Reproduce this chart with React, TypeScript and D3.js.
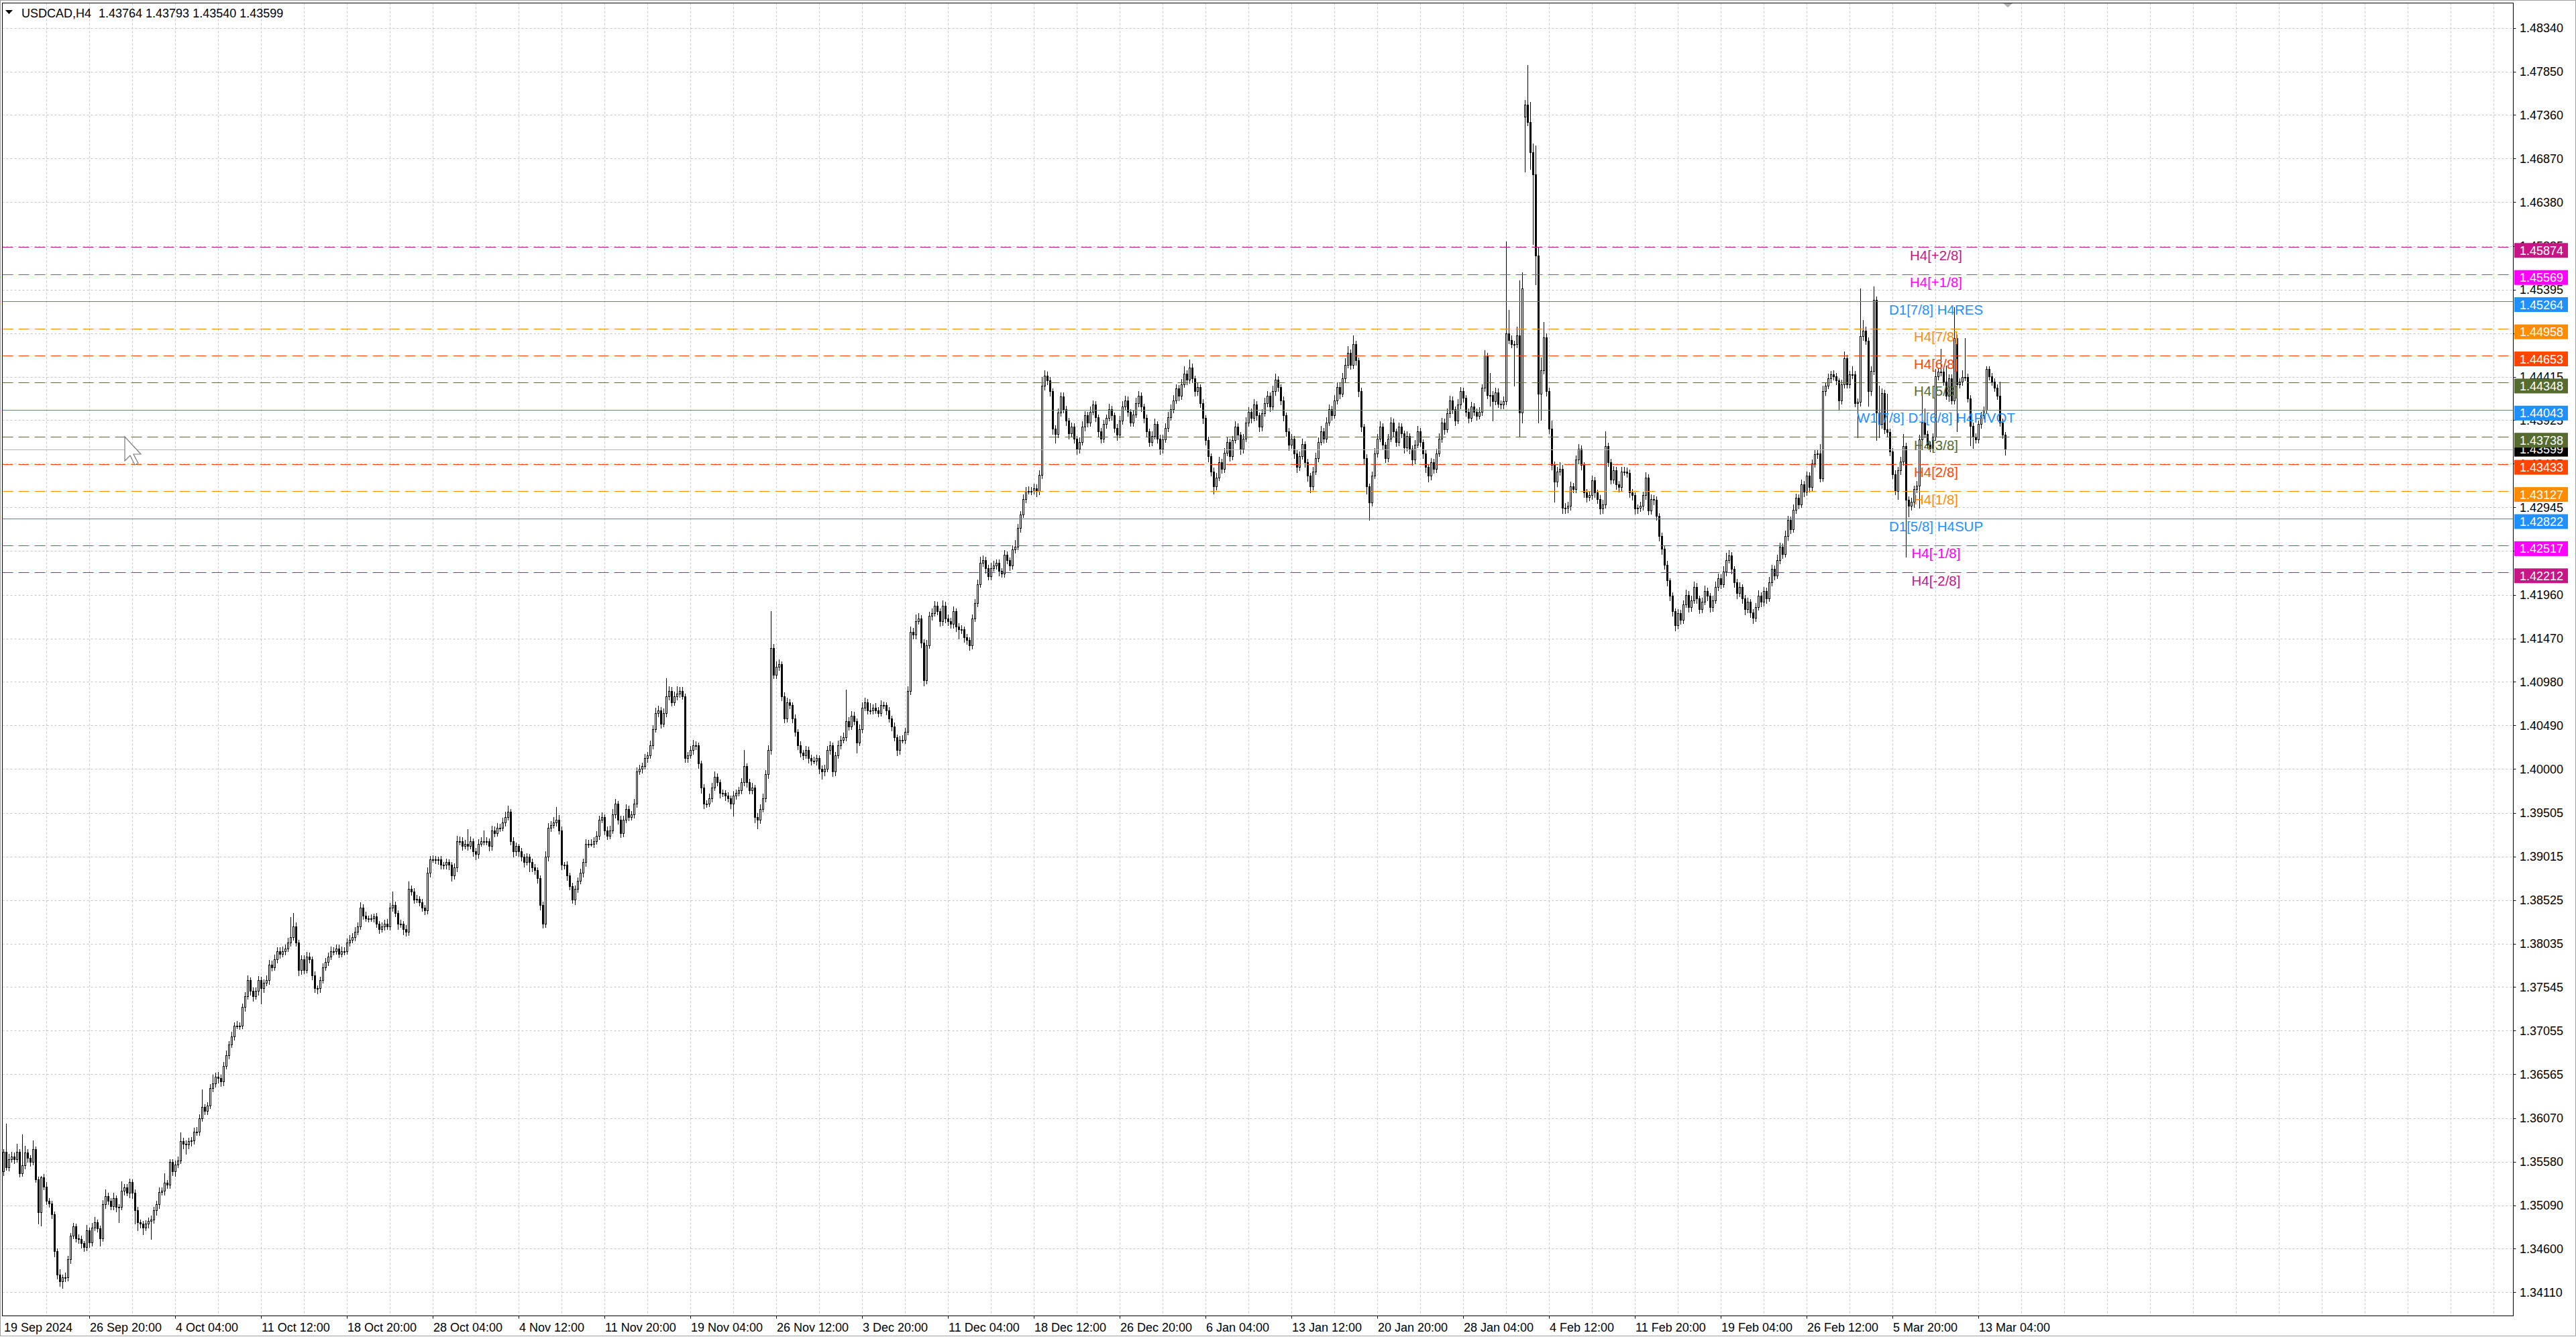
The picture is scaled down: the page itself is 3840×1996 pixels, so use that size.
import React from "react";
import * as d3 from "d3";

// chart size (full screenshot)
const W = 3840;
const H = 1996;
const plotLeft = 3.5;
const plotTop = 4.5;
const plotRight = 3746.5;
const plotBottom = 1961.5;

const symbolTitle = "USDCAD,H4";
const headerQuote = ["1.43764", "1.43793", "1.43540", "1.43599"];

// H4 candles: [close, upper wick (pips), lower wick (pips)], open = previous close
const firstOpen = 1.3547;
const gapOpens: [number, number][] = [[567, 1.4734]];

const barsSepOct = [
  [1.3569,3,4],[1.3552,32,3],[1.3561,6,4],[1.3564,5,3],[1.3561,4,5],[1.3569,9,3],[1.3545,3,4],[1.3554,35,3],[1.3568,8,4],[1.3562,4,4],
  [1.3558,3,5],[1.3572,10,3],[1.3538,3,3],[1.3501,3,13],[1.3540,2,15],[1.3530,4,3],[1.3514,5,4],[1.3511,3,4],[1.3499,3,5],[1.3457,3,6],
  [1.3431,3,5],[1.3423,6,5],[1.3428,3,7],[1.3428,5,5],[1.3448,4,4],[1.3475,3,4],[1.3485,4,3],[1.3472,3,4],[1.3471,4,5],[1.3466,4,5],
  [1.3462,3,5],[1.3481,6,4],[1.3467,3,5],[1.3484,5,4],[1.3490,6,3],[1.3483,3,4],[1.3472,3,9],[1.3510,5,3],[1.3519,8,4],[1.3514,4,4],
  [1.3508,3,4],[1.3517,6,4],[1.3507,3,5],[1.3507,3,17],[1.3525,11,3],[1.3529,4,4],[1.3523,4,3],[1.3535,4,5],[1.3523,3,6],[1.3503,4,15],
  [1.3490,4,9],[1.3488,3,4],[1.3484,3,8],[1.3488,4,3],[1.3491,4,4],[1.3493,4,20],[1.3503,4,4],[1.3510,4,5],[1.3524,5,4],[1.3525,4,3],
  [1.3534,11,4],[1.3532,3,4],[1.3558,3,4],[1.3547,3,4],[1.3555,4,5],[1.3559,5,3],[1.3581,10,3],[1.3578,4,5],[1.3577,4,10],[1.3581,4,4],
  [1.3582,4,5],[1.3592,4,4],[1.3592,5,4],[1.3607,4,4],[1.3620,19,3],[1.3615,3,4],[1.3621,4,4],[1.3641,4,3],[1.3646,10,4],[1.3654,4,4],
  [1.3652,5,5],
];

const barsOctNov = [
  [1.3648,4,5],[1.3666,4,4],[1.3678,5,3],[1.3690,4,4],[1.3699,5,3],[1.3711,4,4],[1.3711,5,3],[1.3711,4,4],[1.3732,4,3],[1.3744,5,4],
  [1.3762,6,3],[1.3750,3,4],[1.3744,4,5],[1.3750,4,3],[1.3762,5,4],[1.3753,4,17],[1.3759,4,4],[1.3762,6,3],[1.3780,5,4],[1.3777,4,4],
  [1.3786,5,3],[1.3795,4,4],[1.3792,4,5],[1.3795,5,3],[1.3798,4,4],[1.3805,5,3],[1.3811,22,4],[1.3823,15,3],[1.3805,4,4],[1.3774,3,6],
  [1.3786,4,5],[1.3774,4,4],[1.3789,5,3],[1.3786,4,4],[1.3768,3,5],[1.3753,4,4],[1.3753,3,6],[1.3762,4,4],[1.3777,4,3],[1.3783,4,3],
  [1.3789,4,4],[1.3795,5,3],[1.3795,4,4],[1.3798,4,3],[1.3792,4,4],[1.3795,5,3],[1.3795,4,4],[1.3805,4,3],[1.3808,5,4],[1.3811,4,3],
  [1.3817,5,4],[1.3823,4,3],[1.3844,6,3],[1.3835,4,4],[1.3832,4,3],[1.3832,3,4],[1.3832,4,3],[1.3834,3,4],[1.3826,4,4],[1.3820,3,5],
  [1.3823,4,3],[1.3826,4,4],[1.3823,5,3],[1.3844,5,4],[1.3847,15,4],[1.3838,4,4],[1.3826,3,6],[1.3826,4,4],[1.3820,3,6],[1.3817,4,5],
  [1.3865,8,4],[1.3862,4,4],[1.3853,4,4],[1.3854,4,3],[1.3850,3,4],[1.3844,4,4],[1.3841,3,5],[1.3883,6,4],[1.3898,4,4],[1.3898,5,3],
  [1.3898,4,4],[1.3898,3,5],[1.3892,4,4],[1.3892,3,4],[1.3895,4,4],[1.3892,3,5],[1.3880,3,6],[1.3889,5,4],[1.3919,6,4],[1.3919,5,4],
  [1.3913,4,4],[1.3916,4,3],[1.3913,16,4],[1.3919,5,3],[1.3907,3,5],[1.3904,4,6],[1.3916,5,4],[1.3919,4,3],[1.3919,12,4],[1.3919,4,4],
];

const barsNovDec = [
  [1.3913,3,5],[1.3931,5,4],[1.3928,4,4],[1.3934,5,3],[1.3934,4,4],[1.3940,5,3],[1.3946,6,4],[1.3952,7,3],[1.3919,3,4],[1.3907,4,6],
  [1.3913,4,4],[1.3907,3,5],[1.3901,4,4],[1.3895,3,5],[1.3901,4,3],[1.3895,3,10],[1.3889,4,4],[1.3886,4,4],[1.3877,3,5],[1.3847,3,5],
  [1.3826,4,5],[1.3901,6,4],[1.3934,5,4],[1.3937,4,4],[1.3940,6,3],[1.3943,14,4],[1.3931,5,4],[1.3892,4,5],[1.3892,3,4],[1.3880,4,5],
  [1.3868,3,4],[1.3853,4,4],[1.3865,4,5],[1.3874,4,4],[1.3883,5,3],[1.3895,4,4],[1.3916,5,4],[1.3916,4,4],[1.3916,5,3],[1.3919,4,4],
  [1.3925,5,3],[1.3943,4,4],[1.3946,5,3],[1.3931,3,5],[1.3925,4,4],[1.3931,5,3],[1.3949,6,3],[1.3961,5,4],[1.3943,3,5],[1.3928,4,5],
  [1.3943,4,4],[1.3955,5,3],[1.3946,4,4],[1.3949,4,3],[1.3961,5,4],[1.3997,5,4],[1.4000,5,3],[1.4003,4,4],[1.4012,5,3],[1.4015,4,4],
  [1.4027,5,3],[1.4045,4,4],[1.4063,6,3],[1.4066,5,4],[1.4051,4,5],[1.4063,5,3],[1.4082,20,4],[1.4088,5,4],[1.4075,4,4],[1.4082,5,3],
  [1.4085,8,4],[1.4088,4,4],[1.4082,4,3],[1.4012,3,4],[1.4015,4,4],[1.4021,5,3],[1.4027,6,4],[1.4027,4,5],[1.4006,3,5],[1.3979,3,6],
  [1.3961,4,5],[1.3961,4,4],[1.3967,5,3],[1.3979,5,4],[1.3991,6,3],[1.3985,4,4],[1.3973,3,5],[1.3973,4,4],[1.3970,3,5],[1.3967,4,4],
  [1.3961,3,5],[1.3970,5,14],[1.3973,4,4],[1.3976,4,3],[1.3985,5,4],[1.4003,18,4],[1.3985,3,5],[1.3976,4,4],[1.3979,5,4],[1.3946,3,6],
];

const barsDecJan = [
  [1.3943,4,10],[1.3955,5,4],[1.3967,5,3],[1.3994,5,4],[1.4021,6,4],[1.4136,42,4],[1.4106,5,4],[1.4115,6,4],[1.4118,5,4],[1.4082,3,5],
  [1.4057,4,5],[1.4075,5,4],[1.4072,4,4],[1.4057,3,5],[1.4042,4,5],[1.4027,3,5],[1.4018,4,4],[1.4015,3,4],[1.4021,5,3],[1.4012,4,5],
  [1.4009,4,4],[1.4009,5,3],[1.4012,4,4],[1.4000,3,5],[1.3997,4,8],[1.4000,5,4],[1.4021,5,3],[1.4027,4,4],[1.3997,3,5],[1.4015,4,4],
  [1.4027,5,3],[1.4033,4,4],[1.4036,5,3],[1.4054,35,4],[1.4048,4,4],[1.4060,5,3],[1.4054,4,4],[1.4030,3,12],[1.4045,5,3],[1.4069,6,4],
  [1.4075,5,3],[1.4066,4,4],[1.4066,8,4],[1.4069,4,4],[1.4066,5,3],[1.4063,4,4],[1.4072,5,3],[1.4072,4,4],[1.4066,3,5],[1.4057,4,4],
  [1.4048,3,5],[1.4036,4,4],[1.4021,3,6],[1.4033,4,4],[1.4033,5,3],[1.4042,4,4],[1.4088,5,3],[1.4154,6,4],[1.4151,5,4],[1.4166,8,4],
  [1.4169,6,3],[1.4142,4,5],[1.4100,4,6],[1.4139,6,4],[1.4172,5,3],[1.4175,6,4],[1.4184,5,3],[1.4178,4,4],[1.4166,3,5],[1.4184,6,4],
  [1.4169,4,4],[1.4166,5,4],[1.4163,4,4],[1.4178,5,4],[1.4160,3,5],[1.4157,4,10],[1.4157,5,4],[1.4148,3,5],[1.4145,4,4],[1.4139,3,5],
  [1.4169,5,4],[1.4187,4,3],[1.4208,5,4],[1.4232,7,3],[1.4235,5,4],[1.4226,4,5],[1.4217,4,4],[1.4226,6,4],[1.4229,5,3],[1.4232,4,4],
  [1.4223,4,5],[1.4220,3,4],[1.4241,5,4],[1.4235,4,4],[1.4229,3,5],[1.4247,5,4],[1.4250,8,4],[1.4271,5,3],[1.4286,4,4],[1.4304,5,3],
  [1.4313,4,4],[1.4313,5,3],[1.4313,4,4],[1.4316,5,3],[1.4313,4,6],[1.4331,5,4],[1.4431,10,4],[1.4443,6,4],[1.4437,4,4],[1.4425,4,5],
  [1.4383,3,6],[1.4377,4,10],[1.4401,5,4],[1.4419,5,4],
];

const barsJanFeb = [
  [1.4405,5,4],[1.4392,4,5],[1.4378,3,6],[1.4385,5,4],[1.4372,4,5],[1.4360,3,6],[1.4368,5,4],[1.4385,6,3],[1.4398,5,4],[1.4390,4,5],
  [1.4402,6,4],[1.4410,5,3],[1.4396,4,5],[1.4380,3,6],[1.4372,4,5],[1.4388,5,4],[1.4395,4,4],[1.4405,6,3],[1.4398,4,5],[1.4384,3,5],
  [1.4376,4,6],[1.4392,5,3],[1.4408,6,4],[1.4415,5,3],[1.4402,4,5],[1.4390,3,4],[1.4399,5,4],[1.4412,6,3],[1.4420,5,4],[1.4408,4,5],
  [1.4395,3,5],[1.4380,4,6],[1.4368,3,5],[1.4375,5,4],[1.4388,6,3],[1.4372,3,5],[1.4360,4,6],[1.4371,5,4],[1.4384,5,3],[1.4396,6,4],
  [1.4405,5,3],[1.4415,6,4],[1.4428,5,3],[1.4420,4,5],[1.4433,6,4],[1.4445,8,3],[1.4438,4,5],[1.4452,9,4],[1.4440,4,5],[1.4425,3,5],
  [1.4430,5,4],[1.4412,3,5],[1.4395,4,6],[1.4370,3,5],[1.4352,4,6],[1.4335,3,5],[1.4318,4,8],[1.4328,5,4],[1.4345,6,3],[1.4338,4,5],
  [1.4356,5,4],[1.4368,6,3],[1.4352,4,5],[1.4370,5,4],[1.4385,6,3],[1.4376,4,5],[1.4360,3,6],[1.4372,5,4],[1.4390,6,3],[1.4402,5,4],
  [1.4395,4,5],[1.4410,6,3],[1.4398,4,5],[1.4385,3,5],[1.4400,5,4],[1.4412,6,3],[1.4420,5,4],[1.4408,4,5],[1.4425,6,3],[1.4438,7,4],
  [1.4430,4,5],[1.4415,3,5],[1.4398,4,6],[1.4380,3,5],[1.4365,4,6],[1.4372,5,4],[1.4355,3,5],[1.4340,4,6],[1.4352,5,4],[1.4366,6,3],
  [1.4345,3,5],[1.4330,4,6],[1.4318,3,7],[1.4335,5,4],[1.4350,6,3],[1.4368,5,4],[1.4380,6,3],[1.4372,4,5],[1.4390,6,4],[1.4405,5,3],
  [1.4398,4,5],[1.4415,6,3],[1.4430,5,4],[1.4422,4,5],[1.4440,6,3],[1.4455,7,4],[1.4468,8,3],[1.4455,4,5],[1.4478,10,4],[1.4460,4,5],
  [1.4425,3,6],[1.4385,4,5],[1.4350,3,6],[1.4318,4,8],[1.4300,3,20],[1.4330,5,4],[1.4355,6,3],[1.4372,5,4],[1.4385,6,3],[1.4365,4,5],
  [1.4350,3,5],[1.4372,5,4],[1.4390,6,3],[1.4380,4,5],[1.4368,3,5],[1.4385,5,4],[1.4378,4,5],[1.4362,3,6],[1.4375,5,4],[1.4360,3,5],
  [1.4348,4,6],[1.4365,5,4],[1.4380,6,3],[1.4368,4,5],[1.4355,3,5],[1.4340,4,6],[1.4330,3,7],[1.4345,5,4],[1.4338,4,5],[1.4355,5,4],
  [1.4372,6,3],[1.4390,5,4],[1.4382,4,5],[1.4400,6,3],[1.4415,5,4],[1.4405,4,5],[1.4392,3,5],[1.4410,6,3],[1.4425,5,4],[1.4418,4,5],
  [1.4402,3,5],[1.4395,4,5],[1.4408,5,4],[1.4402,4,4],
];

const barsFebMar = [
  [1.4397,4,4],[1.4402,5,3],[1.4429,4,4],[1.4465,6,4],[1.4421,3,4],[1.4421,25,12],[1.4414,4,22],[1.4424,5,4],[1.4411,4,4],[1.4410,4,4],
  [1.4414,5,4],[1.4490,104,4],[1.4483,27,4],[1.4478,5,4],[1.4478,4,47],[1.4488,10,4],[1.4401,62,27],[1.4541,18,11],[1.4748,5,62],[1.4728,44,4],
  [1.4694,23,19],[1.4669,10,78],[1.4578,33,33],[1.4422,10,32],[1.4449,14,29],[1.4486,17,4],[1.4425,4,5],[1.4383,4,5],[1.4342,9,5],[1.4323,4,22],
  [1.4335,5,5],[1.4338,7,4],[1.4294,4,6],[1.4294,5,6],[1.4296,5,5],[1.4318,5,4],[1.4315,4,4],[1.4348,5,4],[1.4360,6,4],[1.4342,4,5],
  [1.4311,3,5],[1.4306,4,5],[1.4308,5,4],[1.4325,5,4],[1.4311,4,5],[1.4304,3,5],[1.4293,4,6],[1.4298,5,5],[1.4363,17,4],[1.4345,4,4],
  [1.4326,4,5],[1.4336,5,4],[1.4320,4,5],[1.4317,4,5],[1.4335,5,4],[1.4335,5,4],[1.4333,4,4],[1.4311,4,5],[1.4308,4,5],[1.4293,3,6],
  [1.4294,4,5],[1.4296,5,4],[1.4308,4,4],[1.4328,6,4],[1.4291,4,5],[1.4304,5,4],[1.4303,4,5],[1.4285,4,5],[1.4262,3,5],[1.4248,4,6],
  [1.4230,3,5],[1.4212,4,6],[1.4195,3,5],[1.4178,4,6],[1.4162,3,6],[1.4175,5,4],[1.4168,4,5],[1.4185,5,4],[1.4196,6,3],[1.4182,4,5],
  [1.4190,5,4],[1.4205,6,3],[1.4192,4,5],[1.4180,3,5],[1.4188,5,4],[1.4200,6,3],[1.4195,4,5],[1.4182,3,5],[1.4190,5,4],[1.4205,6,3],
  [1.4215,5,4],[1.4208,4,5],[1.4222,6,3],[1.4235,8,4],[1.4240,6,3],[1.4225,4,5],[1.4210,3,5],[1.4198,4,6],[1.4205,5,4],[1.4192,3,5],
  [1.4180,4,6],[1.4188,5,4],[1.4176,3,5],[1.4170,4,6],[1.4182,5,4],[1.4195,6,3],[1.4188,4,5],[1.4200,5,4],[1.4192,4,5],[1.4210,6,3],
  [1.4225,5,4],[1.4218,4,5],[1.4235,6,3],[1.4250,5,4],[1.4242,4,5],[1.4262,6,3],[1.4280,5,4],[1.4270,4,5],[1.4292,6,3],[1.4305,5,4],
  [1.4298,4,5],[1.4320,6,3],[1.4312,4,5],[1.4330,5,4],[1.4317,4,5],[1.4344,4,4],[1.4354,5,4],[1.4355,4,4],[1.4327,11,4],[1.4425,6,3],
  [1.4431,4,4],[1.4440,5,3],[1.4444,4,4],[1.4442,5,4],[1.4437,4,4],[1.4415,3,11],[1.4433,5,4],[1.4462,8,4],[1.4433,4,4],[1.4444,4,4],
  [1.4444,9,4],[1.4412,4,4],[1.4413,4,39],[1.4487,54,4],[1.4493,12,4],[1.4482,5,4],[1.4425,4,16],[1.4448,5,4],[1.4528,15,4],[1.4401,4,31],
  [1.4388,30,15],[1.4423,5,4],[1.4382,4,4],[1.4379,40,4],[1.4357,4,4],[1.4332,4,5],[1.4313,4,4],[1.4336,4,9],[1.4346,5,4],[1.4363,14,4],
  [1.4303,4,64],[1.4296,4,12],[1.4301,4,4],[1.4315,4,6],[1.4319,5,4],[1.4371,5,25],[1.4390,33,4],[1.4377,16,4],[1.4365,4,4],[1.4361,4,4],
  [1.4374,4,4],[1.4442,8,4],[1.4447,4,4],[1.4447,26,4],[1.4436,4,4],[1.4420,18,4],[1.4440,4,6],[1.4415,4,4],[1.4485,35,4],[1.4433,4,53],
  [1.4436,4,4],[1.4441,8,4],[1.4441,44,4],[1.4417,4,4],[1.4386,4,22],[1.4374,4,13],[1.4371,4,4],[1.4388,4,4],[1.4398,4,4],[1.4404,4,4],
  [1.4450,3,4],[1.4442,3,4],[1.4436,4,4],[1.4429,4,4],[1.4420,4,4],[1.4390,16,4],[1.43764,4,4],[1.43599,3,6],
];

const priceTicks = [
  1.4834, 1.4785, 1.4736, 1.4687, 1.4638, 1.45885, 1.45395, 1.44905, 1.44415, 1.43925,
  1.43435, 1.42945, 1.42455, 1.4196, 1.4147, 1.4098, 1.4049, 1.4, 1.39505, 1.39015,
  1.38525, 1.38035, 1.37545, 1.37055, 1.36565, 1.3607, 1.3558, 1.3509, 1.346, 1.3411,
];

// one label every 32 bars, first one at bar 0
const dateLabels = [
  "19 Sep 2024", "26 Sep 20:00", "4 Oct 04:00", "11 Oct 12:00", "18 Oct 20:00", "28 Oct 04:00",
  "4 Nov 12:00", "11 Nov 20:00", "19 Nov 04:00", "26 Nov 12:00", "3 Dec 20:00", "11 Dec 04:00",
  "18 Dec 12:00", "26 Dec 20:00", "6 Jan 04:00", "13 Jan 12:00", "20 Jan 20:00", "28 Jan 04:00",
  "4 Feb 12:00", "11 Feb 20:00", "19 Feb 04:00", "26 Feb 12:00", "5 Mar 20:00", "13 Mar 04:00",
];

// Murrey math levels
const levelPrices = [1.45874, 1.45569, 1.45264, 1.44958, 1.44653, 1.44348, 1.44043, 1.43738, 1.43433, 1.43127, 1.42822, 1.42517, 1.42212];
const levelNames = [
  "H4[+2/8]", "H4[+1/8]", "D1[7/8] H4RES", "H4[7/8]", "H4[6/8]", "H4[5/8]",
  "W1[7/8] D1[6/8] H4PIVOT", "H4[3/8]", "H4[2/8]", "H4[1/8]", "D1[5/8] H4SUP", "H4[-1/8]", "H4[-2/8]",
];
const currentPrice = 1.43599;

// styles
const levelColors = ["#C71585", "#FF00FF", "#1E90FF", "#FF8C00", "#FF4500", "#556B2F", "#1E90FF", "#556B2F", "#FF4500", "#FF8C00", "#1E90FF", "#FF00FF", "#C71585"];
const levelSolid = [false, false, true, false, false, false, true, false, false, false, true, false, false];

const PIP = 0.0001;
const font = "'Liberation Sans', Arial, sans-serif";

export default function App() {
  const rows = [...barsSepOct, ...barsOctNov, ...barsNovDec, ...barsDecJan, ...barsJanFeb, ...barsFebMar];
  const gaps = new Map(gapOpens);
  let prev = firstOpen;
  const candles = rows.map(([c, up, dn], i) => {
    const o = gaps.has(i) ? (gaps.get(i) as number) : prev;
    prev = c;
    return { i, o, c, h: Math.max(o, c) + up * PIP, l: Math.min(o, c) - dn * PIP };
  });

  const x = d3.scaleLinear().domain([0, 746]).range([5, 2989]);
  const y = d3.scaleLinear().domain([1.45874, 1.42212]).range([368.3, 853.3]);

  const gridBars = d3.range(16, 929, 16);
  const fmt = (p: number) => p.toFixed(5);

  return (
    <svg width={W} height={H} style={{ position: "absolute", left: 0, top: 0, display: "block" }} fontFamily={font}>
      <rect x={0} y={0} width={W} height={H} fill="#ffffff" />
      <rect x={0.5} y={0.5} width={W - 1} height={H - 5} fill="none" stroke="#a0a0a0" />
      <defs>
        <clipPath id="plotClip">
          <rect x={plotLeft} y={plotTop} width={plotRight - plotLeft} height={plotBottom - plotTop} />
        </clipPath>
      </defs>

      <g clipPath="url(#plotClip)">
        {/* grid */}
        {priceTicks.map((p) => (
          <line key={"hg" + p} x1={plotLeft} x2={plotRight} y1={Math.round(y(p)) + 0.5} y2={Math.round(y(p)) + 0.5}
            stroke="#c6c6c6" strokeDasharray="3,3" />
        ))}
        {gridBars.map((b) => (
          <line key={"vg" + b} x1={Math.round(x(b)) + 0.5} x2={Math.round(x(b)) + 0.5} y1={plotTop} y2={plotBottom}
            stroke="#c6c6c6" strokeDasharray="3,3" />
        ))}

        {/* candles */}
        {candles.map((d) => {
          const cx = Math.round(x(d.i));
          const top = Math.round(y(Math.max(d.o, d.c)));
          const bot = Math.round(y(Math.min(d.o, d.c)));
          const bull = d.c >= d.o;
          return (
            <g key={d.i}>
              <line x1={cx + 0.5} x2={cx + 0.5} y1={Math.round(y(d.h))} y2={Math.round(y(d.l)) + 1} stroke="#000" />
              {bull ? (
                <rect x={cx - 0.5} y={top + 0.5} width={2} height={Math.max(bot - top, 1)} fill="#fff" stroke="#000" />
              ) : (
                <rect x={cx - 1} y={top} width={3} height={Math.max(bot - top, 1) + 1} fill="#000" />
              )}
            </g>
          );
        })}

        {/* level lines */}
        <line x1={plotLeft} x2={plotRight} y1={Math.round(y(currentPrice)) + 0.5} y2={Math.round(y(currentPrice)) + 0.5} stroke="#b4b4b4" />
        {levelPrices.map((p, k) => (
          <line key={"lv" + p} x1={plotLeft} x2={plotRight} y1={Math.round(y(p)) + 0.5} y2={Math.round(y(p)) + 0.5}
            stroke={levelColors[k]} strokeWidth={1} strokeDasharray={levelSolid[k] ? undefined : "16,8"} />
        ))}
        {levelPrices.map((p, k) => (
          <text key={"lt" + p} x={2886} y={y(p) + 19.5} textAnchor="middle" fontSize={20.5} fill={levelColors[k]}>
            {levelNames[k]}
          </text>
        ))}

        {/* mouse cursor and chart shift marker */}
        <path d="M186,651 v36 l8,-8 l7,14 l5,-2.5 l-7,-13.5 h11 z" fill="#ffffff" stroke="#7a7a7a" strokeWidth={1.2} />
      </g>
      <polygon points="2985,4 3001,4 2993,11" fill="#b0b0b0" />

      {/* plot frame */}
      <rect x={plotLeft} y={plotTop} width={plotRight - plotLeft} height={plotBottom - plotTop} fill="none" stroke="#000" />

      {/* header */}
      <polygon points="8,15 19,15 13.5,21" fill="#000" />
      <text x={32} y={26} fontSize={18} fill="#000">{symbolTitle}</text>
      <text x={147} y={26} fontSize={18} fill="#000">{headerQuote.join(" ")}</text>

      {/* price axis */}
      {priceTicks.map((p) => (
        <g key={"pt" + p}>
          <line x1={plotRight} x2={plotRight + 4} y1={Math.round(y(p)) + 0.5} y2={Math.round(y(p)) + 0.5} stroke="#000" />
          <text x={3756} y={y(p) + 6.5} fontSize={18} fill="#000">{fmt(p)}</text>
        </g>
      ))}
      <rect x={3748} y={y(currentPrice) - 11} width={80} height={22} fill="#000" />
      <text x={3756} y={y(currentPrice) + 6.5} fontSize={18} fill="#fff">{fmt(currentPrice)}</text>
      {levelPrices.map((p, k) => (
        <g key={"lb" + p}>
          <rect x={3748} y={y(p) - 6} width={80} height={22} fill={levelColors[k]} />
          <text x={3756} y={y(p) + 11.5} fontSize={18} fill="#fff">{fmt(p)}</text>
        </g>
      ))}

      {/* time axis */}
      {dateLabels.map((t, j) => {
        const tx = Math.round(x(j * 32));
        return (
          <g key={t}>
            {j > 0 && <line x1={tx + 0.5} x2={tx + 0.5} y1={plotBottom} y2={plotBottom + 4} stroke="#000" />}
            <text x={tx + 1} y={1985} fontSize={18} fill="#000">{t}</text>
          </g>
        );
      })}
    </svg>
  );
}
